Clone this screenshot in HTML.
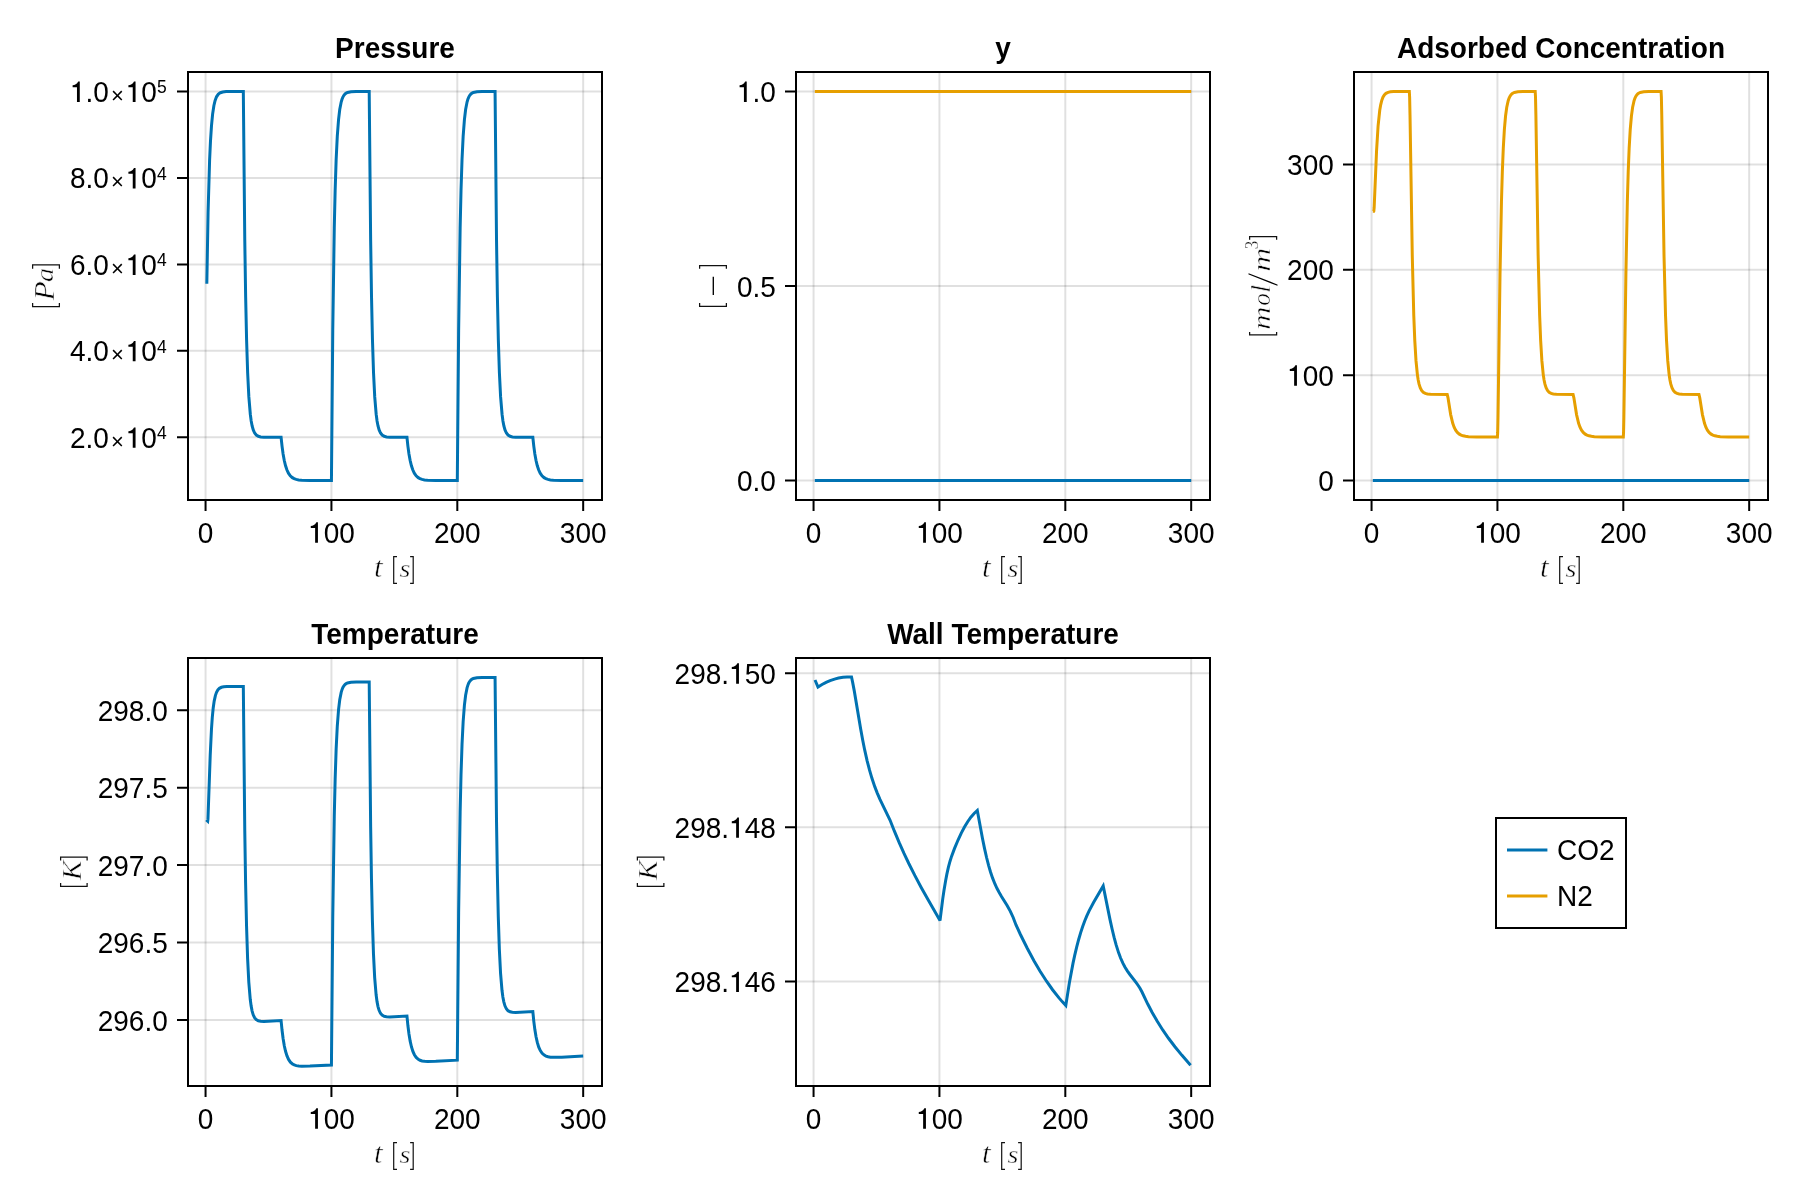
<!DOCTYPE html><html><head><meta charset="utf-8"><title>plot</title><style>html,body{margin:0;padding:0;background:#fff;overflow:hidden}svg{display:block;will-change:transform}</style></head><body>
<svg width="1800" height="1200" viewBox="0 0 1800 1200">
<rect width="1800" height="1200" fill="#fff"/>
<path d="M205.56 72 V500" stroke="rgba(0,0,0,0.12)" stroke-width="2"/>
<path d="M331.43 72 V500" stroke="rgba(0,0,0,0.12)" stroke-width="2"/>
<path d="M457.31 72 V500" stroke="rgba(0,0,0,0.12)" stroke-width="2"/>
<path d="M583.18 72 V500" stroke="rgba(0,0,0,0.12)" stroke-width="2"/>
<path d="M188 437.31 H602" stroke="rgba(0,0,0,0.12)" stroke-width="2"/>
<path d="M188 350.85 H602" stroke="rgba(0,0,0,0.12)" stroke-width="2"/>
<path d="M188 264.38 H602" stroke="rgba(0,0,0,0.12)" stroke-width="2"/>
<path d="M188 177.92 H602" stroke="rgba(0,0,0,0.12)" stroke-width="2"/>
<path d="M188 91.45 H602" stroke="rgba(0,0,0,0.12)" stroke-width="2"/>
<path d="M813.56 72 V500" stroke="rgba(0,0,0,0.12)" stroke-width="2"/>
<path d="M939.43 72 V500" stroke="rgba(0,0,0,0.12)" stroke-width="2"/>
<path d="M1065.31 72 V500" stroke="rgba(0,0,0,0.12)" stroke-width="2"/>
<path d="M1191.18 72 V500" stroke="rgba(0,0,0,0.12)" stroke-width="2"/>
<path d="M796 480.55 H1210" stroke="rgba(0,0,0,0.12)" stroke-width="2"/>
<path d="M796 286.00 H1210" stroke="rgba(0,0,0,0.12)" stroke-width="2"/>
<path d="M796 91.45 H1210" stroke="rgba(0,0,0,0.12)" stroke-width="2"/>
<path d="M1371.56 72 V500" stroke="rgba(0,0,0,0.12)" stroke-width="2"/>
<path d="M1497.43 72 V500" stroke="rgba(0,0,0,0.12)" stroke-width="2"/>
<path d="M1623.31 72 V500" stroke="rgba(0,0,0,0.12)" stroke-width="2"/>
<path d="M1749.18 72 V500" stroke="rgba(0,0,0,0.12)" stroke-width="2"/>
<path d="M1354 480.55 H1768" stroke="rgba(0,0,0,0.12)" stroke-width="2"/>
<path d="M1354 375.19 H1768" stroke="rgba(0,0,0,0.12)" stroke-width="2"/>
<path d="M1354 269.84 H1768" stroke="rgba(0,0,0,0.12)" stroke-width="2"/>
<path d="M1354 164.49 H1768" stroke="rgba(0,0,0,0.12)" stroke-width="2"/>
<path d="M205.56 658 V1086" stroke="rgba(0,0,0,0.12)" stroke-width="2"/>
<path d="M331.43 658 V1086" stroke="rgba(0,0,0,0.12)" stroke-width="2"/>
<path d="M457.31 658 V1086" stroke="rgba(0,0,0,0.12)" stroke-width="2"/>
<path d="M583.18 658 V1086" stroke="rgba(0,0,0,0.12)" stroke-width="2"/>
<path d="M188 1020.07 H602" stroke="rgba(0,0,0,0.12)" stroke-width="2"/>
<path d="M188 942.60 H602" stroke="rgba(0,0,0,0.12)" stroke-width="2"/>
<path d="M188 865.12 H602" stroke="rgba(0,0,0,0.12)" stroke-width="2"/>
<path d="M188 787.65 H602" stroke="rgba(0,0,0,0.12)" stroke-width="2"/>
<path d="M188 710.17 H602" stroke="rgba(0,0,0,0.12)" stroke-width="2"/>
<path d="M813.56 658 V1086" stroke="rgba(0,0,0,0.12)" stroke-width="2"/>
<path d="M939.43 658 V1086" stroke="rgba(0,0,0,0.12)" stroke-width="2"/>
<path d="M1065.31 658 V1086" stroke="rgba(0,0,0,0.12)" stroke-width="2"/>
<path d="M1191.18 658 V1086" stroke="rgba(0,0,0,0.12)" stroke-width="2"/>
<path d="M796 981.52 H1210" stroke="rgba(0,0,0,0.12)" stroke-width="2"/>
<path d="M796 827.36 H1210" stroke="rgba(0,0,0,0.12)" stroke-width="2"/>
<path d="M796 673.20 H1210" stroke="rgba(0,0,0,0.12)" stroke-width="2"/>
<defs>
<clipPath id="cA1"><rect x="188" y="72" width="414" height="428"/></clipPath>
<clipPath id="cA2"><rect x="796" y="72" width="414" height="428"/></clipPath>
<clipPath id="cA3"><rect x="1354" y="72" width="414" height="428"/></clipPath>
<clipPath id="cA4"><rect x="188" y="658" width="414" height="428"/></clipPath>
<clipPath id="cA5"><rect x="796" y="658" width="414" height="428"/></clipPath>
</defs>
<path clip-path="url(#cA1)" d="M206.82 283.71L208.08 212.20L209.59 160.56L210.47 141.35L211.48 125.85L212.61 114.08L213.87 105.67L215.06 100.59L216.51 96.81L218.21 94.31L219.22 93.42L220.35 92.75L222.74 91.99L226.14 91.61L243.32 91.45L244.77 239.95L245.65 297.04L246.59 340.02L247.66 373.04L248.86 396.88L250.31 414.24L251.19 420.91L252.13 425.94L253.27 429.98L254.65 433.03L256.29 435.04L258.36 436.30L260.69 436.90L263.97 437.20L281.08 437.31L282.03 446.10L283.10 453.92L284.23 460.28L285.49 465.58L286.87 469.82L288.45 473.20L290.27 475.81L292.35 477.67L294.11 478.67L296.19 479.41L298.64 479.91L301.66 480.24L309.85 480.50L331.43 480.55L332.76 330.21L334.27 228.09L335.15 190.12L336.15 159.46L337.29 136.20L338.55 119.56L339.74 109.52L341.19 102.04L342.01 99.28L342.89 97.10L343.90 95.35L345.09 93.96L346.22 93.10L347.55 92.46L351.01 91.74L356.17 91.50L369.20 91.45L370.64 239.95L371.52 297.04L372.47 340.02L373.54 373.04L374.73 396.88L376.18 414.24L377.06 420.91L378.01 425.94L379.14 429.98L380.52 433.03L382.16 435.04L384.24 436.30L386.57 436.90L389.84 437.20L406.96 437.31L407.90 446.10L408.97 453.92L410.10 460.28L411.36 465.58L412.75 469.82L414.32 473.20L416.15 475.81L418.22 477.67L419.99 478.67L422.06 479.41L424.52 479.91L427.54 480.24L435.72 480.50L457.31 480.55L458.63 330.21L460.14 228.09L461.02 190.12L462.03 159.46L463.16 136.20L464.42 119.56L465.62 109.52L467.06 102.04L467.88 99.28L468.76 97.10L469.77 95.35L470.97 93.96L472.10 93.10L473.42 92.46L476.88 91.74L482.04 91.50L495.07 91.45L496.52 239.95L497.40 297.04L498.34 340.02L499.41 373.04L500.61 396.88L502.06 414.24L502.94 420.91L503.88 425.94L505.01 429.98L506.40 433.03L508.03 435.04L510.11 436.30L512.44 436.90L515.71 437.20L532.83 437.31L533.78 446.10L534.85 453.92L535.98 460.28L537.24 465.58L538.62 469.82L540.20 473.20L542.02 475.81L544.10 477.67L545.86 478.67L547.94 479.41L550.39 479.91L553.41 480.24L561.59 480.50L583.18 480.55" stroke="#0072b2" stroke-width="3" fill="none" stroke-linejoin="miter" stroke-miterlimit="3"/>
<path clip-path="url(#cA2)" d="M814.82 480.55L1191.18 480.55" stroke="#0072b2" stroke-width="3" fill="none" stroke-linejoin="miter" stroke-miterlimit="3"/>
<path clip-path="url(#cA2)" d="M814.82 91.45L1191.18 91.45" stroke="#e69f00" stroke-width="3" fill="none" stroke-linejoin="miter" stroke-miterlimit="3"/>
<path clip-path="url(#cA3)" d="M1372.82 480.55L1749.18 480.55" stroke="#0072b2" stroke-width="3" fill="none" stroke-linejoin="miter" stroke-miterlimit="3"/>
<path clip-path="url(#cA3)" d="M1372.82 211.37L1373.76 211.37L1373.83 211.21L1374.14 207.96L1376.53 151.43L1378.10 125.77L1379.74 110.33L1380.69 104.79L1381.76 100.45L1382.95 97.25L1384.34 94.94L1385.97 93.37L1388.05 92.36L1390.38 91.86L1393.65 91.60L1409.32 91.49L1409.64 97.19L1410.01 114.88L1412.28 256.06L1413.79 315.70L1414.80 340.86L1415.99 360.63L1417.38 374.62L1418.20 379.98L1419.08 384.14L1420.21 387.78L1421.59 390.51L1423.23 392.32L1425.24 393.43L1427.45 393.97L1430.53 394.25L1447.21 394.45L1447.97 397.54L1450.67 414.60L1452.75 423.31L1454.13 427.16L1455.64 430.14L1457.34 432.42L1459.36 434.15L1461.12 435.11L1463.13 435.81L1465.52 436.30L1468.55 436.63L1476.60 436.89L1497.43 436.93L1497.69 432.42L1498.00 417.28L1500.01 275.00L1501.46 201.69L1502.34 171.51L1503.29 148.10L1504.36 129.66L1505.55 116.04L1506.75 107.27L1508.20 100.73L1509.01 98.32L1509.90 96.42L1510.90 94.89L1512.03 93.72L1513.17 92.96L1514.43 92.41L1517.83 91.75L1522.86 91.53L1535.20 91.49L1535.51 97.19L1535.89 114.88L1538.15 256.06L1539.66 315.70L1540.67 340.86L1541.87 360.63L1543.25 374.62L1544.07 379.98L1544.95 384.14L1546.08 387.78L1547.47 390.51L1549.10 392.32L1551.12 393.43L1553.32 393.97L1556.41 394.25L1573.08 394.45L1573.84 397.54L1576.55 414.60L1578.62 423.31L1580.01 427.16L1581.52 430.14L1583.22 432.42L1585.23 434.15L1586.99 435.11L1589.01 435.81L1591.40 436.30L1594.42 436.63L1602.48 436.89L1623.31 436.93L1623.56 432.42L1623.87 417.28L1625.89 275.00L1627.34 201.69L1628.22 171.51L1629.16 148.10L1630.23 129.66L1631.43 116.04L1632.62 107.27L1634.07 100.73L1634.89 98.32L1635.77 96.42L1636.78 94.89L1637.91 93.72L1639.04 92.96L1640.30 92.41L1643.70 91.75L1648.73 91.53L1661.07 91.49L1661.38 97.19L1661.76 114.88L1664.03 256.06L1665.54 315.70L1666.55 340.86L1667.74 360.63L1669.13 374.62L1669.94 379.98L1670.83 384.14L1671.96 387.78L1673.34 390.51L1674.98 392.32L1676.99 393.43L1679.20 393.97L1682.28 394.25L1698.96 394.45L1699.71 397.54L1702.42 414.60L1704.50 423.31L1705.88 427.16L1707.39 430.14L1709.09 432.42L1711.10 434.15L1712.87 435.11L1714.88 435.81L1717.27 436.30L1720.29 436.63L1728.35 436.89L1749.18 436.93" stroke="#e69f00" stroke-width="3" fill="none" stroke-linejoin="miter" stroke-miterlimit="3"/>
<path clip-path="url(#cA4)" d="M206.30 819.80L207.70 821.11L207.95 819.17L210.22 755.17L211.48 728.99L212.29 717.34L213.17 708.28L214.18 701.10L215.38 695.57L216.51 692.27L217.83 689.90L219.41 688.30L221.42 687.29L223.69 686.80L226.90 686.56L243.32 686.46L244.77 830.73L245.59 882.82L246.53 925.58L247.60 958.41L248.80 982.09L250.24 999.30L251.13 1005.90L252.07 1010.85L253.20 1014.81L254.59 1017.76L256.22 1019.68L258.30 1020.81L260.63 1021.28L263.90 1021.39L281.08 1020.53L282.03 1030.06L283.10 1038.52L284.29 1045.71L285.55 1051.32L287.00 1055.97L288.57 1059.46L290.40 1062.13L292.48 1063.99L294.24 1064.94L296.31 1065.62L298.77 1066.03L301.79 1066.22L309.97 1066.07L331.43 1065.01L332.76 917.01L334.27 816.48L335.15 779.10L336.15 748.92L337.29 726.02L338.55 709.64L339.74 699.75L341.19 692.39L342.01 689.67L342.89 687.53L343.90 685.80L345.09 684.43L346.22 683.59L347.55 682.96L351.01 682.25L356.17 682.01L369.20 681.97L370.64 826.24L371.46 878.32L372.41 921.08L373.48 953.92L374.67 977.59L376.12 994.80L377.00 1001.40L377.94 1006.35L379.08 1010.32L380.46 1013.27L382.10 1015.18L384.17 1016.32L386.50 1016.79L389.78 1016.90L406.96 1016.04L407.90 1025.53L408.97 1033.97L410.17 1041.13L411.43 1046.73L412.81 1051.19L414.38 1054.72L416.21 1057.42L418.29 1059.29L420.05 1060.26L422.13 1060.93L424.58 1061.34L427.60 1061.52L435.78 1061.35L457.31 1060.20L458.63 912.33L460.14 811.87L461.02 774.53L462.03 744.37L463.16 721.49L464.42 705.12L465.62 695.25L467.06 687.88L467.88 685.17L468.76 683.03L469.77 681.30L470.97 679.94L472.10 679.10L473.42 678.47L476.88 677.75L482.04 677.52L495.07 677.48L496.52 821.75L497.34 873.83L498.28 916.59L499.35 949.42L500.55 973.10L501.99 990.31L502.87 996.91L503.82 1001.86L504.95 1005.82L506.34 1008.78L507.97 1010.69L510.05 1011.82L512.38 1012.30L515.65 1012.41L532.83 1011.55L533.78 1021.10L534.85 1029.59L536.04 1036.81L537.30 1042.44L538.75 1047.10L540.32 1050.60L542.15 1053.27L544.22 1055.13L545.99 1056.09L548.06 1056.76L550.52 1057.16L553.54 1057.34L561.72 1057.16L583.18 1056.02" stroke="#0072b2" stroke-width="3" fill="none" stroke-linejoin="miter" stroke-miterlimit="3"/>
<path clip-path="url(#cA5)" d="M815.00 680.00L818.00 687.00L822.04 684.54L826.07 682.42L830.11 680.64L834.55 679.09L838.58 678.04L843.02 677.28L847.06 676.96L851.50 677.00L852.70 682.62L854.31 691.13L860.72 729.27L862.73 740.19L864.73 750.17L867.14 760.86L869.55 770.20L871.95 778.35L874.76 786.62L877.17 792.84L879.97 799.33L890.00 820.00L894.40 831.20L899.20 842.65L904.00 853.39L908.80 863.50L914.80 875.42L921.20 887.42L928.40 900.31L940.00 920.50L942.81 898.41L944.01 890.29L945.62 880.69L946.82 874.40L948.42 867.18L950.03 861.18L951.63 856.13L954.44 848.62L958.05 840.00L961.26 833.14L964.47 827.04L967.67 821.71L970.88 817.17L974.09 813.43L977.30 810.50L982.54 838.85L984.56 848.63L986.57 857.50L988.59 865.34L990.60 872.21L992.62 878.16L995.04 884.20L997.05 888.51L999.07 892.31L1001.49 896.42L1007.13 905.48L1010.36 911.34L1013.18 917.48L1016.00 925.00L1020.42 934.48L1027.25 948.24L1034.07 960.91L1040.10 971.19L1046.52 981.21L1052.55 989.73L1058.97 997.89L1062.19 1001.61L1065.80 1005.50L1069.42 982.49L1073.04 963.17L1074.65 955.66L1076.66 947.13L1078.67 939.47L1080.68 932.63L1082.69 926.52L1084.70 921.05L1086.71 916.14L1089.12 910.87L1093.55 902.49L1103.20 886.00L1110.07 919.84L1112.09 929.04L1114.11 937.45L1116.13 944.90L1118.56 952.58L1120.58 957.99L1123.00 963.42L1125.03 967.22L1127.45 971.10L1129.88 974.48L1136.34 982.79L1138.36 985.70L1139.98 988.30L1142.00 992.00L1147.62 1003.78L1152.04 1012.20L1157.26 1021.29L1162.89 1030.18L1168.51 1038.28L1174.94 1046.76L1181.76 1055.10L1190.60 1065.30" stroke="#0072b2" stroke-width="3" fill="none" stroke-linejoin="miter" stroke-miterlimit="3"/>
<rect x="188" y="72" width="414" height="428" fill="none" stroke="#000" stroke-width="2"/>
<path d="M205.56 501 V511 M331.43 501 V511 M457.31 501 V511 M583.18 501 V511 M187 437.31 H177 M187 350.85 H177 M187 264.38 H177 M187 177.92 H177 M187 91.45 H177" stroke="#000" stroke-width="2" fill="none"/>
<rect x="796" y="72" width="414" height="428" fill="none" stroke="#000" stroke-width="2"/>
<path d="M813.56 501 V511 M939.43 501 V511 M1065.31 501 V511 M1191.18 501 V511 M795 480.55 H785 M795 286.00 H785 M795 91.45 H785" stroke="#000" stroke-width="2" fill="none"/>
<rect x="1354" y="72" width="414" height="428" fill="none" stroke="#000" stroke-width="2"/>
<path d="M1371.56 501 V511 M1497.43 501 V511 M1623.31 501 V511 M1749.18 501 V511 M1353 480.55 H1343 M1353 375.19 H1343 M1353 269.84 H1343 M1353 164.49 H1343" stroke="#000" stroke-width="2" fill="none"/>
<rect x="188" y="658" width="414" height="428" fill="none" stroke="#000" stroke-width="2"/>
<path d="M205.56 1087 V1097 M331.43 1087 V1097 M457.31 1087 V1097 M583.18 1087 V1097 M187 1020.07 H177 M187 942.60 H177 M187 865.12 H177 M187 787.65 H177 M187 710.17 H177" stroke="#000" stroke-width="2" fill="none"/>
<rect x="796" y="658" width="414" height="428" fill="none" stroke="#000" stroke-width="2"/>
<path d="M813.56 1087 V1097 M939.43 1087 V1097 M1065.31 1087 V1097 M1191.18 1087 V1097 M795 981.52 H785 M795 827.36 H785 M795 673.20 H785" stroke="#000" stroke-width="2" fill="none"/>
<g transform="translate(197.77 542.70) scale(1 1.030)"><text x="0.00" y="0" font-family="Liberation Sans, sans-serif" font-size="28" fill="#000">0</text></g>
<g transform="translate(308.08 542.70) scale(1 1.030)"><path transform="translate(0.00 0) scale(1.0000)" d="M9.85 -19.75V0H7.05V-14.25H2.7V-16.1C4.9 -16.1 7.0 -17.2 8.3 -19.75Z" fill="#000"/><text x="15.57" y="0" font-family="Liberation Sans, sans-serif" font-size="28" fill="#000">00</text></g>
<g transform="translate(433.95 542.70) scale(1 1.030)"><text x="0.00" y="0" font-family="Liberation Sans, sans-serif" font-size="28" fill="#000">200</text></g>
<g transform="translate(559.83 542.70) scale(1 1.030)"><text x="0.00" y="0" font-family="Liberation Sans, sans-serif" font-size="28" fill="#000">300</text></g>
<g transform="translate(69.92 447.81) scale(1 1.030)"><text x="0.00" y="0" font-family="Liberation Sans, sans-serif" font-size="28" fill="#000">2.0</text></g>
<text transform="translate(110.88 448.61) scale(1 1.030)" font-family="Liberation Sans, sans-serif" font-size="22" text-anchor="start" fill="#000">×</text>
<g transform="translate(125.70 447.81) scale(1 1.030)"><path transform="translate(0.00 0) scale(1.0000)" d="M9.85 -19.75V0H7.05V-14.25H2.7V-16.1C4.9 -16.1 7.0 -17.2 8.3 -19.75Z" fill="#000"/><text x="15.57" y="0" font-family="Liberation Sans, sans-serif" font-size="28" fill="#000">0</text></g>
<text transform="translate(157.00 439.21) scale(1 1.030)" font-family="Liberation Sans, sans-serif" font-size="17.5" text-anchor="start" fill="#000">4</text>
<g transform="translate(69.92 361.35) scale(1 1.030)"><text x="0.00" y="0" font-family="Liberation Sans, sans-serif" font-size="28" fill="#000">4.0</text></g>
<text transform="translate(110.88 362.15) scale(1 1.030)" font-family="Liberation Sans, sans-serif" font-size="22" text-anchor="start" fill="#000">×</text>
<g transform="translate(125.70 361.35) scale(1 1.030)"><path transform="translate(0.00 0) scale(1.0000)" d="M9.85 -19.75V0H7.05V-14.25H2.7V-16.1C4.9 -16.1 7.0 -17.2 8.3 -19.75Z" fill="#000"/><text x="15.57" y="0" font-family="Liberation Sans, sans-serif" font-size="28" fill="#000">0</text></g>
<text transform="translate(157.00 352.75) scale(1 1.030)" font-family="Liberation Sans, sans-serif" font-size="17.5" text-anchor="start" fill="#000">4</text>
<g transform="translate(69.92 274.88) scale(1 1.030)"><text x="0.00" y="0" font-family="Liberation Sans, sans-serif" font-size="28" fill="#000">6.0</text></g>
<text transform="translate(110.88 275.68) scale(1 1.030)" font-family="Liberation Sans, sans-serif" font-size="22" text-anchor="start" fill="#000">×</text>
<g transform="translate(125.70 274.88) scale(1 1.030)"><path transform="translate(0.00 0) scale(1.0000)" d="M9.85 -19.75V0H7.05V-14.25H2.7V-16.1C4.9 -16.1 7.0 -17.2 8.3 -19.75Z" fill="#000"/><text x="15.57" y="0" font-family="Liberation Sans, sans-serif" font-size="28" fill="#000">0</text></g>
<text transform="translate(157.00 266.28) scale(1 1.030)" font-family="Liberation Sans, sans-serif" font-size="17.5" text-anchor="start" fill="#000">4</text>
<g transform="translate(69.92 188.42) scale(1 1.030)"><text x="0.00" y="0" font-family="Liberation Sans, sans-serif" font-size="28" fill="#000">8.0</text></g>
<text transform="translate(110.88 189.22) scale(1 1.030)" font-family="Liberation Sans, sans-serif" font-size="22" text-anchor="start" fill="#000">×</text>
<g transform="translate(125.70 188.42) scale(1 1.030)"><path transform="translate(0.00 0) scale(1.0000)" d="M9.85 -19.75V0H7.05V-14.25H2.7V-16.1C4.9 -16.1 7.0 -17.2 8.3 -19.75Z" fill="#000"/><text x="15.57" y="0" font-family="Liberation Sans, sans-serif" font-size="28" fill="#000">0</text></g>
<text transform="translate(157.00 179.82) scale(1 1.030)" font-family="Liberation Sans, sans-serif" font-size="17.5" text-anchor="start" fill="#000">4</text>
<g transform="translate(69.92 101.95) scale(1 1.030)"><path transform="translate(0.00 0) scale(1.0000)" d="M9.85 -19.75V0H7.05V-14.25H2.7V-16.1C4.9 -16.1 7.0 -17.2 8.3 -19.75Z" fill="#000"/><text x="15.57" y="0" font-family="Liberation Sans, sans-serif" font-size="28" fill="#000">.0</text></g>
<text transform="translate(110.88 102.75) scale(1 1.030)" font-family="Liberation Sans, sans-serif" font-size="22" text-anchor="start" fill="#000">×</text>
<g transform="translate(125.70 101.95) scale(1 1.030)"><path transform="translate(0.00 0) scale(1.0000)" d="M9.85 -19.75V0H7.05V-14.25H2.7V-16.1C4.9 -16.1 7.0 -17.2 8.3 -19.75Z" fill="#000"/><text x="15.57" y="0" font-family="Liberation Sans, sans-serif" font-size="28" fill="#000">0</text></g>
<text transform="translate(157.00 93.35) scale(1 1.030)" font-family="Liberation Sans, sans-serif" font-size="17.5" text-anchor="start" fill="#000">5</text>
<text transform="translate(395.00 57.90) scale(1 1.030)" font-family="Liberation Sans, sans-serif" font-size="28" font-weight="bold" text-anchor="middle" fill="#000">Pressure</text>
<text transform="translate(373.91 576.73) scale(1.109 1.062)" font-family="Liberation Serif, serif" font-size="28" font-style="italic" fill="#000" stroke="#fff" stroke-width="0.55">t</text>
<path d="M397.00 556.60 H393.70 V583.40 H397.00" stroke="#111" stroke-width="1.20" fill="none"/>
<text transform="translate(399.52 576.87) scale(1.008 0.904)" font-family="Liberation Serif, serif" font-size="28" font-style="italic" fill="#000" stroke="#fff" stroke-width="0.55">s</text>
<path d="M410.10 556.60 H413.20 V583.40 H410.10" stroke="#111" stroke-width="1.20" fill="none"/>
<g transform="translate(805.77 542.70) scale(1 1.030)"><text x="0.00" y="0" font-family="Liberation Sans, sans-serif" font-size="28" fill="#000">0</text></g>
<g transform="translate(916.08 542.70) scale(1 1.030)"><path transform="translate(0.00 0) scale(1.0000)" d="M9.85 -19.75V0H7.05V-14.25H2.7V-16.1C4.9 -16.1 7.0 -17.2 8.3 -19.75Z" fill="#000"/><text x="15.57" y="0" font-family="Liberation Sans, sans-serif" font-size="28" fill="#000">00</text></g>
<g transform="translate(1041.95 542.70) scale(1 1.030)"><text x="0.00" y="0" font-family="Liberation Sans, sans-serif" font-size="28" fill="#000">200</text></g>
<g transform="translate(1167.83 542.70) scale(1 1.030)"><text x="0.00" y="0" font-family="Liberation Sans, sans-serif" font-size="28" fill="#000">300</text></g>
<g transform="translate(736.88 491.05) scale(1 1.030)"><text x="0.00" y="0" font-family="Liberation Sans, sans-serif" font-size="28" fill="#000">0.0</text></g>
<g transform="translate(736.88 296.50) scale(1 1.030)"><text x="0.00" y="0" font-family="Liberation Sans, sans-serif" font-size="28" fill="#000">0.5</text></g>
<g transform="translate(736.88 101.95) scale(1 1.030)"><path transform="translate(0.00 0) scale(1.0000)" d="M9.85 -19.75V0H7.05V-14.25H2.7V-16.1C4.9 -16.1 7.0 -17.2 8.3 -19.75Z" fill="#000"/><text x="15.57" y="0" font-family="Liberation Sans, sans-serif" font-size="28" fill="#000">.0</text></g>
<text transform="translate(1003.00 57.90) scale(1 1.030)" font-family="Liberation Sans, sans-serif" font-size="28" font-weight="bold" text-anchor="middle" fill="#000">y</text>
<text transform="translate(981.91 576.73) scale(1.109 1.062)" font-family="Liberation Serif, serif" font-size="28" font-style="italic" fill="#000" stroke="#fff" stroke-width="0.55">t</text>
<path d="M1005.00 556.60 H1001.70 V583.40 H1005.00" stroke="#111" stroke-width="1.20" fill="none"/>
<text transform="translate(1007.52 576.87) scale(1.008 0.904)" font-family="Liberation Serif, serif" font-size="28" font-style="italic" fill="#000" stroke="#fff" stroke-width="0.55">s</text>
<path d="M1018.10 556.60 H1021.20 V583.40 H1018.10" stroke="#111" stroke-width="1.20" fill="none"/>
<g transform="translate(1363.77 542.70) scale(1 1.030)"><text x="0.00" y="0" font-family="Liberation Sans, sans-serif" font-size="28" fill="#000">0</text></g>
<g transform="translate(1474.08 542.70) scale(1 1.030)"><path transform="translate(0.00 0) scale(1.0000)" d="M9.85 -19.75V0H7.05V-14.25H2.7V-16.1C4.9 -16.1 7.0 -17.2 8.3 -19.75Z" fill="#000"/><text x="15.57" y="0" font-family="Liberation Sans, sans-serif" font-size="28" fill="#000">00</text></g>
<g transform="translate(1599.95 542.70) scale(1 1.030)"><text x="0.00" y="0" font-family="Liberation Sans, sans-serif" font-size="28" fill="#000">200</text></g>
<g transform="translate(1725.83 542.70) scale(1 1.030)"><text x="0.00" y="0" font-family="Liberation Sans, sans-serif" font-size="28" fill="#000">300</text></g>
<g transform="translate(1318.23 491.05) scale(1 1.030)"><text x="0.00" y="0" font-family="Liberation Sans, sans-serif" font-size="28" fill="#000">0</text></g>
<g transform="translate(1287.09 385.69) scale(1 1.030)"><path transform="translate(0.00 0) scale(1.0000)" d="M9.85 -19.75V0H7.05V-14.25H2.7V-16.1C4.9 -16.1 7.0 -17.2 8.3 -19.75Z" fill="#000"/><text x="15.57" y="0" font-family="Liberation Sans, sans-serif" font-size="28" fill="#000">00</text></g>
<g transform="translate(1287.09 280.34) scale(1 1.030)"><text x="0.00" y="0" font-family="Liberation Sans, sans-serif" font-size="28" fill="#000">200</text></g>
<g transform="translate(1287.09 174.99) scale(1 1.030)"><text x="0.00" y="0" font-family="Liberation Sans, sans-serif" font-size="28" fill="#000">300</text></g>
<text transform="translate(1561.00 57.90) scale(1 1.030)" font-family="Liberation Sans, sans-serif" font-size="28" font-weight="bold" text-anchor="middle" fill="#000">Adsorbed Concentration</text>
<text transform="translate(1539.91 576.73) scale(1.109 1.062)" font-family="Liberation Serif, serif" font-size="28" font-style="italic" fill="#000" stroke="#fff" stroke-width="0.55">t</text>
<path d="M1563.00 556.60 H1559.70 V583.40 H1563.00" stroke="#111" stroke-width="1.20" fill="none"/>
<text transform="translate(1565.52 576.87) scale(1.008 0.904)" font-family="Liberation Serif, serif" font-size="28" font-style="italic" fill="#000" stroke="#fff" stroke-width="0.55">s</text>
<path d="M1576.10 556.60 H1579.20 V583.40 H1576.10" stroke="#111" stroke-width="1.20" fill="none"/>
<g transform="translate(197.77 1128.70) scale(1 1.030)"><text x="0.00" y="0" font-family="Liberation Sans, sans-serif" font-size="28" fill="#000">0</text></g>
<g transform="translate(308.08 1128.70) scale(1 1.030)"><path transform="translate(0.00 0) scale(1.0000)" d="M9.85 -19.75V0H7.05V-14.25H2.7V-16.1C4.9 -16.1 7.0 -17.2 8.3 -19.75Z" fill="#000"/><text x="15.57" y="0" font-family="Liberation Sans, sans-serif" font-size="28" fill="#000">00</text></g>
<g transform="translate(433.95 1128.70) scale(1 1.030)"><text x="0.00" y="0" font-family="Liberation Sans, sans-serif" font-size="28" fill="#000">200</text></g>
<g transform="translate(559.83 1128.70) scale(1 1.030)"><text x="0.00" y="0" font-family="Liberation Sans, sans-serif" font-size="28" fill="#000">300</text></g>
<g transform="translate(97.74 1030.57) scale(1 1.030)"><text x="0.00" y="0" font-family="Liberation Sans, sans-serif" font-size="28" fill="#000">296.0</text></g>
<g transform="translate(97.74 953.10) scale(1 1.030)"><text x="0.00" y="0" font-family="Liberation Sans, sans-serif" font-size="28" fill="#000">296.5</text></g>
<g transform="translate(97.74 875.62) scale(1 1.030)"><text x="0.00" y="0" font-family="Liberation Sans, sans-serif" font-size="28" fill="#000">297.0</text></g>
<g transform="translate(97.74 798.15) scale(1 1.030)"><text x="0.00" y="0" font-family="Liberation Sans, sans-serif" font-size="28" fill="#000">297.5</text></g>
<g transform="translate(97.74 720.67) scale(1 1.030)"><text x="0.00" y="0" font-family="Liberation Sans, sans-serif" font-size="28" fill="#000">298.0</text></g>
<text transform="translate(395.00 643.90) scale(1 1.030)" font-family="Liberation Sans, sans-serif" font-size="28" font-weight="bold" text-anchor="middle" fill="#000">Temperature</text>
<text transform="translate(373.91 1162.73) scale(1.109 1.062)" font-family="Liberation Serif, serif" font-size="28" font-style="italic" fill="#000" stroke="#fff" stroke-width="0.55">t</text>
<path d="M397.00 1142.60 H393.70 V1169.40 H397.00" stroke="#111" stroke-width="1.20" fill="none"/>
<text transform="translate(399.52 1162.87) scale(1.008 0.904)" font-family="Liberation Serif, serif" font-size="28" font-style="italic" fill="#000" stroke="#fff" stroke-width="0.55">s</text>
<path d="M410.10 1142.60 H413.20 V1169.40 H410.10" stroke="#111" stroke-width="1.20" fill="none"/>
<g transform="translate(805.77 1128.70) scale(1 1.030)"><text x="0.00" y="0" font-family="Liberation Sans, sans-serif" font-size="28" fill="#000">0</text></g>
<g transform="translate(916.08 1128.70) scale(1 1.030)"><path transform="translate(0.00 0) scale(1.0000)" d="M9.85 -19.75V0H7.05V-14.25H2.7V-16.1C4.9 -16.1 7.0 -17.2 8.3 -19.75Z" fill="#000"/><text x="15.57" y="0" font-family="Liberation Sans, sans-serif" font-size="28" fill="#000">00</text></g>
<g transform="translate(1041.95 1128.70) scale(1 1.030)"><text x="0.00" y="0" font-family="Liberation Sans, sans-serif" font-size="28" fill="#000">200</text></g>
<g transform="translate(1167.83 1128.70) scale(1 1.030)"><text x="0.00" y="0" font-family="Liberation Sans, sans-serif" font-size="28" fill="#000">300</text></g>
<g transform="translate(674.60 992.02) scale(1 1.030)"><text x="0.00" y="0" font-family="Liberation Sans, sans-serif" font-size="28" fill="#000">298.</text><path transform="translate(54.49 0) scale(1.0000)" d="M9.85 -19.75V0H7.05V-14.25H2.7V-16.1C4.9 -16.1 7.0 -17.2 8.3 -19.75Z" fill="#000"/><text x="70.06" y="0" font-family="Liberation Sans, sans-serif" font-size="28" fill="#000">46</text></g>
<g transform="translate(674.60 837.86) scale(1 1.030)"><text x="0.00" y="0" font-family="Liberation Sans, sans-serif" font-size="28" fill="#000">298.</text><path transform="translate(54.49 0) scale(1.0000)" d="M9.85 -19.75V0H7.05V-14.25H2.7V-16.1C4.9 -16.1 7.0 -17.2 8.3 -19.75Z" fill="#000"/><text x="70.06" y="0" font-family="Liberation Sans, sans-serif" font-size="28" fill="#000">48</text></g>
<g transform="translate(674.60 683.70) scale(1 1.030)"><text x="0.00" y="0" font-family="Liberation Sans, sans-serif" font-size="28" fill="#000">298.</text><path transform="translate(54.49 0) scale(1.0000)" d="M9.85 -19.75V0H7.05V-14.25H2.7V-16.1C4.9 -16.1 7.0 -17.2 8.3 -19.75Z" fill="#000"/><text x="70.06" y="0" font-family="Liberation Sans, sans-serif" font-size="28" fill="#000">50</text></g>
<text transform="translate(1003.00 643.90) scale(1 1.030)" font-family="Liberation Sans, sans-serif" font-size="28" font-weight="bold" text-anchor="middle" fill="#000">Wall Temperature</text>
<text transform="translate(981.91 1162.73) scale(1.109 1.062)" font-family="Liberation Serif, serif" font-size="28" font-style="italic" fill="#000" stroke="#fff" stroke-width="0.55">t</text>
<path d="M1005.00 1142.60 H1001.70 V1169.40 H1005.00" stroke="#111" stroke-width="1.20" fill="none"/>
<text transform="translate(1007.52 1162.87) scale(1.008 0.904)" font-family="Liberation Serif, serif" font-size="28" font-style="italic" fill="#000" stroke="#fff" stroke-width="0.55">s</text>
<path d="M1018.10 1142.60 H1021.20 V1169.40 H1018.10" stroke="#111" stroke-width="1.20" fill="none"/>
<g transform="translate(53.00 307.20) rotate(-90)">
<path d="M4.20 -20.38 H0.62 V6.38 H4.20" stroke="#111" stroke-width="1.25" fill="none"/>
<text transform="translate(6.54 0.60) scale(1.152 1.050)" font-family="Liberation Serif, serif" font-size="28" font-style="italic" fill="#000" stroke="#fff" stroke-width="0.55">P</text>
<text transform="translate(25.32 -0.22) scale(1.000 0.897)" font-family="Liberation Serif, serif" font-size="28" font-style="italic" fill="#000" stroke="#fff" stroke-width="0.55">a</text>
<path d="M38.50 -20.38 H42.27 V6.38 H38.50" stroke="#111" stroke-width="1.25" fill="none"/>
</g>
<g transform="translate(719.50 306.90) rotate(-90)">
<path d="M3.80 -19.88 H0.62 V6.88 H3.80" stroke="#111" stroke-width="1.25" fill="none"/>
<path d="M12.00 -6.20 H30.10" stroke="#000" stroke-width="1.35"/>
<path d="M38.20 -19.88 H41.38 V6.88 H38.20" stroke="#111" stroke-width="1.25" fill="none"/>
</g>
<g transform="translate(79.50 887.00) rotate(-90)">
<path d="M4.00 -18.88 H0.62 V7.62 H4.00" stroke="#111" stroke-width="1.25" fill="none"/>
<text transform="translate(6.65 1.00) scale(1.074 0.993)" font-family="Liberation Serif, serif" font-size="28" font-style="italic" fill="#000" stroke="#fff" stroke-width="0.55">K</text>
<path d="M26.50 -18.88 H29.88 V7.62 H26.50" stroke="#111" stroke-width="1.25" fill="none"/>
</g>
<g transform="translate(656.25 887.00) rotate(-90)">
<path d="M4.00 -18.88 H0.62 V7.62 H4.00" stroke="#111" stroke-width="1.25" fill="none"/>
<text transform="translate(6.65 1.00) scale(1.074 0.993)" font-family="Liberation Serif, serif" font-size="28" font-style="italic" fill="#000" stroke="#fff" stroke-width="0.55">K</text>
<path d="M26.50 -18.88 H29.88 V7.62 H26.50" stroke="#111" stroke-width="1.25" fill="none"/>
</g>
<g transform="translate(1270.00 335.50) rotate(-90)">
<path d="M3.50 -20.38 H0.62 V6.62 H3.50" stroke="#111" stroke-width="1.25" fill="none"/>
<text transform="translate(5.58 0.00) scale(1.167 0.925)" font-family="Liberation Serif, serif" font-size="28" font-style="italic" fill="#000" stroke="#fff" stroke-width="0.55">m</text>
<text transform="translate(29.71 -0.22) scale(0.898 0.889)" font-family="Liberation Serif, serif" font-size="28" font-style="italic" fill="#000" stroke="#fff" stroke-width="0.55">o</text>
<text transform="translate(42.40 0.00) scale(1.067 0.981)" font-family="Liberation Serif, serif" font-size="28" font-style="italic" fill="#000" stroke="#fff" stroke-width="0.55">l</text>
<path d="M50.50 7.00 L61.50 -21.00" stroke="#000" stroke-width="1.3" stroke-linecap="round"/>
<text transform="translate(63.81 0.00) scale(1.194 0.925)" font-family="Liberation Serif, serif" font-size="28" font-style="italic" fill="#000" stroke="#fff" stroke-width="0.55">m</text>
<text transform="translate(86.16 -12.16) scale(0.609 0.640)" font-family="Liberation Serif, serif" font-size="28" fill="#000" stroke="#fff" stroke-width="0.55">3</text>
<path d="M95.75 -20.38 H98.88 V6.62 H95.75" stroke="#111" stroke-width="1.25" fill="none"/>
</g>
<rect x="1496" y="818" width="130" height="110" fill="#fff" stroke="#000" stroke-width="2"/>
<path d="M1507 850 H1547.4" stroke="#0072b2" stroke-width="3"/>
<path d="M1507 896 H1547.4" stroke="#e69f00" stroke-width="3"/>
<text transform="translate(1557.00 860.40) scale(1 1.030)" font-family="Liberation Sans, sans-serif" font-size="28" text-anchor="start" fill="#000">CO2</text>
<text transform="translate(1557.00 906.40) scale(1 1.030)" font-family="Liberation Sans, sans-serif" font-size="28" text-anchor="start" fill="#000">N2</text>
</svg></body></html>
